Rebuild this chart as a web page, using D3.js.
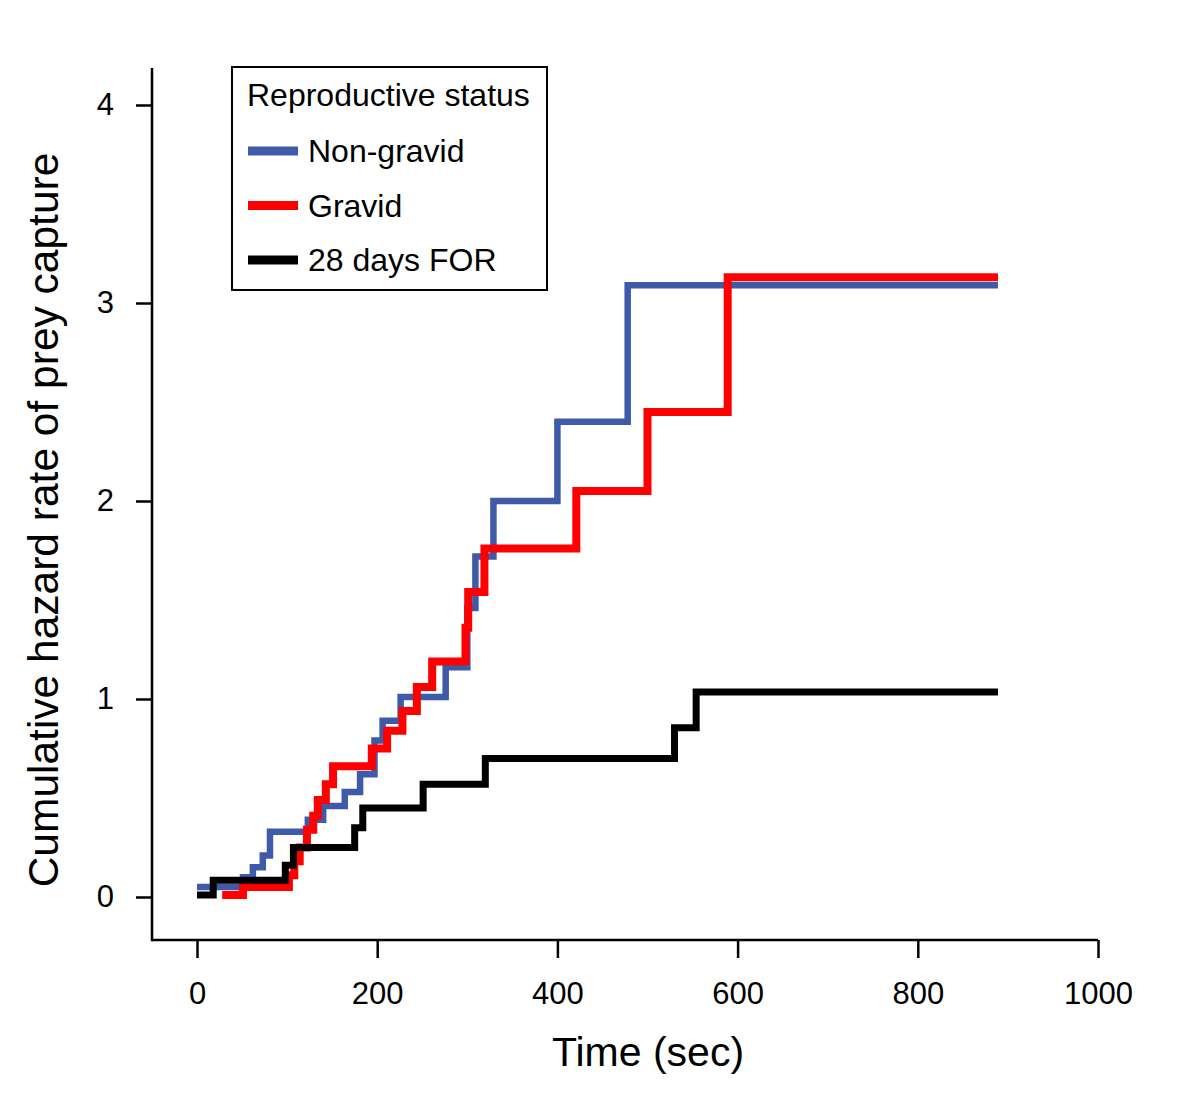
<!DOCTYPE html>
<html>
<head>
<meta charset="utf-8">
<script src="https://cdn.jsdelivr.net/npm/d3@7/dist/d3.min.js"></script>
<style>
  html, body { margin: 0; padding: 0; background: #fff; }
  svg text { font-family: "Liberation Sans", Arial, sans-serif; fill: #000; }
</style>
</head>
<body>
<svg id="chart" width="1200" height="1118"></svg>
<script>
// ---- data (step points: [time sec, cumulative hazard]) ----
const seriesNames = ["Non-gravid", "Gravid", "28 days FOR"];
const endTime = 889;
const nonGravid = [
  [0, 0.05], [51, 0.10], [62, 0.15], [73, 0.21], [81, 0.33], [123, 0.39],
  [140, 0.46], [164, 0.53], [181, 0.62], [197, 0.79], [206, 0.89], [226, 1.01],
  [276, 1.16], [300, 1.46], [309, 1.72], [329, 2.00], [400, 2.40], [478, 3.09]
];
const gravid = [
  [28, 0.01], [51, 0.05], [102, 0.11], [108, 0.18], [114, 0.25], [122, 0.34],
  [129, 0.41], [134, 0.49], [143, 0.57], [151, 0.66], [194, 0.75], [211, 0.84],
  [228, 0.94], [244, 1.06], [261, 1.19], [298, 1.36], [301, 1.54], [319, 1.76],
  [421, 2.05], [500, 2.45], [589, 3.13]
];
const for28 = [
  [0, 0.01], [18, 0.085], [98, 0.16], [107, 0.25], [175, 0.35], [184, 0.45],
  [251, 0.57], [320, 0.70], [530, 0.855], [554, 1.035]
];
const xTicks = [0, 200, 400, 600, 800, 1000];
const yTicks = [0, 1, 2, 3, 4];
const colors = ["#3f5aa9", "#ff0000", "#000000"];
const widths = [6.5, 8, 7];

// ---- layout ----
const axisLeft = 152, axisBottom = 940, axisTop = 68, axisRight = 1098;
const x = d3.scaleLinear().domain([0, 1000]).range([197, 1098]);
const y = d3.scaleLinear().domain([0, 4]).range([897, 105]);

const svg = d3.select("#chart");

// axes
const gx = svg.append("g").attr("transform", `translate(0,${axisBottom})`)
  .call(d3.axisBottom(x).tickValues(xTicks).tickSize(18).tickPadding(24).tickFormat(d3.format("d")));
gx.select(".domain").remove();
gx.selectAll(".tick line").attr("stroke", "#000").attr("stroke-width", 2.5);
gx.selectAll(".tick text").attr("font-size", 31).attr("dy", "0.71em");

const gy = svg.append("g").attr("transform", `translate(${axisLeft},0)`)
  .call(d3.axisLeft(y).tickValues(yTicks).tickSize(16).tickPadding(22).tickFormat(d3.format("d")));
gy.select(".domain").remove();
gy.selectAll(".tick line").attr("stroke", "#000").attr("stroke-width", 2.5);
gy.selectAll(".tick text").attr("font-size", 31);

svg.append("line").attr("x1", axisLeft).attr("x2", axisRight)
  .attr("y1", axisBottom).attr("y2", axisBottom)
  .attr("stroke", "#000").attr("stroke-width", 2.5);
svg.append("line").attr("x1", axisLeft).attr("x2", axisLeft)
  .attr("y1", axisTop).attr("y2", axisBottom + 1.25)
  .attr("stroke", "#000").attr("stroke-width", 2.5);

// titles
svg.append("text").attr("x", 648).attr("y", 1066).attr("text-anchor", "middle")
  .attr("font-size", 41).text("Time (sec)");
svg.append("text").attr("transform", "translate(58,520) rotate(-90)")
  .attr("text-anchor", "middle").attr("font-size", 42.5)
  .text("Cumulative hazard rate of prey capture");

// lines
const line = d3.line().x(d => x(d[0])).y(d => y(d[1])).curve(d3.curveStepAfter);
const allSeries = [nonGravid, gravid, for28];
allSeries.forEach((s, i) => {
  const pts = s.concat([[endTime, s[s.length - 1][1]]]);
  svg.append("path").datum(pts).attr("d", line)
    .attr("fill", "none").attr("stroke", colors[i])
    .attr("stroke-width", widths[i]).attr("stroke-linejoin", "miter")
    .attr("stroke-linecap", "butt");
});

// legend
const lg = svg.append("g");
lg.append("rect").attr("x", 232).attr("y", 67).attr("width", 315).attr("height", 223)
  .attr("fill", "#fff").attr("stroke", "#000").attr("stroke-width", 2);
lg.append("text").attr("x", 247).attr("y", 106).attr("font-size", 32).text("Reproductive status");
seriesNames.forEach((n, i) => {
  const cy = 151 + i * 54.5;
  lg.append("line").attr("x1", 248).attr("x2", 298).attr("y1", cy).attr("y2", cy)
    .attr("stroke", colors[i]).attr("stroke-width", 9);
  lg.append("text").attr("x", 308).attr("y", cy + 11).attr("font-size", 32).text(n);
});
</script>
</body>
</html>
